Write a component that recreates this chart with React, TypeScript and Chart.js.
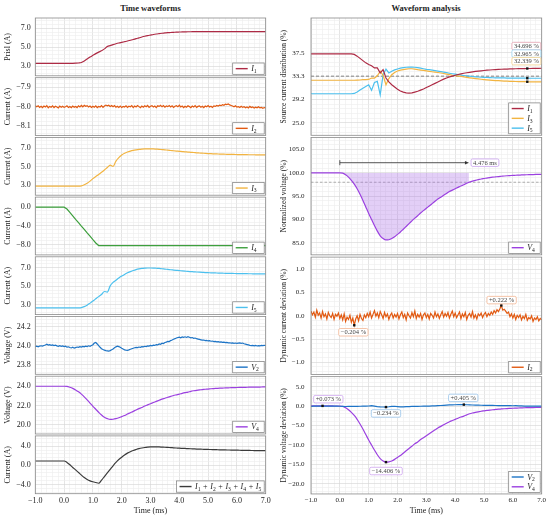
import { useEffect, useRef } from 'react';
import Chart from 'chart.js/auto';

const FONT = "'Liberation Serif', 'DejaVu Serif', serif";
Chart.defaults.font.family = FONT;
Chart.defaults.font.size = 8;
Chart.defaults.color = '#222';

// time bases (ms)
const time = [
  -1.0, -0.9, -0.8, -0.7, -0.6, -0.5, -0.4, -0.3, -0.2, -0.1,
  0.0, 0.1, 0.2, 0.3, 0.4, 0.5, 0.6, 0.7, 0.8, 0.9,
  1.0, 1.1, 1.2, 1.3, 1.4, 1.5, 1.6, 1.7, 1.8, 1.9,
  2.0, 2.1, 2.2, 2.3, 2.4, 2.5, 2.6, 2.7, 2.8, 2.9,
  3.0, 3.1, 3.2, 3.3, 3.4, 3.5, 3.6, 3.7, 3.8, 3.9,
  4.0, 4.1, 4.2, 4.3, 4.4, 4.5, 4.6, 4.7, 4.8, 4.9,
  5.0, 5.1, 5.2, 5.3, 5.4, 5.5, 5.6, 5.7, 5.8, 5.9,
  6.0, 6.1, 6.2, 6.3, 6.4, 6.5, 6.6, 6.7, 6.8, 6.9,
  7.0,
];
const timeFine = [
  -1.0, -0.95, -0.9, -0.85, -0.8, -0.75, -0.7, -0.65, -0.6, -0.55, -0.5, -0.45, -0.4, -0.35, -0.3, -0.25, -0.2, -0.15, -0.1, -0.05,
  0.0, 0.05, 0.1, 0.15, 0.2, 0.25, 0.3, 0.35, 0.4, 0.45, 0.5, 0.55, 0.6, 0.65, 0.7, 0.75, 0.8, 0.85, 0.9, 0.95,
  1.0, 1.05, 1.1, 1.15, 1.2, 1.25, 1.3, 1.35, 1.4, 1.45, 1.5, 1.55, 1.6, 1.65, 1.7, 1.75, 1.8, 1.85, 1.9, 1.95,
  2.0, 2.05, 2.1, 2.15, 2.2, 2.25, 2.3, 2.35, 2.4, 2.45, 2.5, 2.55, 2.6, 2.65, 2.7, 2.75, 2.8, 2.85, 2.9, 2.95,
  3.0, 3.05, 3.1, 3.15, 3.2, 3.25, 3.3, 3.35, 3.4, 3.45, 3.5, 3.55, 3.6, 3.65, 3.7, 3.75, 3.8, 3.85, 3.9, 3.95,
  4.0, 4.05, 4.1, 4.15, 4.2, 4.25, 4.3, 4.35, 4.4, 4.45, 4.5, 4.55, 4.6, 4.65, 4.7, 4.75, 4.8, 4.85, 4.9, 4.95,
  5.0, 5.05, 5.1, 5.15, 5.2, 5.25, 5.3, 5.35, 5.4, 5.45, 5.5, 5.55, 5.6, 5.65, 5.7, 5.75, 5.8, 5.85, 5.9, 5.95,
  6.0, 6.05, 6.1, 6.15, 6.2, 6.25, 6.3, 6.35, 6.4, 6.45, 6.5, 6.55, 6.6, 6.65, 6.7, 6.75, 6.8, 6.85, 6.9, 6.95,
  7.0,
];

// time waveforms
const i1 = [
  3.3, 3.3, 3.3, 3.3, 3.3, 3.3, 3.3, 3.3, 3.3, 3.3,
  3.3, 3.3, 3.3, 3.3, 3.31, 3.33, 3.38, 3.55, 3.76, 3.96,
  4.14, 4.32, 4.48, 4.62, 4.82, 5.08, 5.17, 5.27, 5.36, 5.44,
  5.51, 5.58, 5.65, 5.73, 5.81, 5.9, 5.98, 6.07, 6.15, 6.22,
  6.28, 6.34, 6.39, 6.43, 6.47, 6.5, 6.53, 6.55, 6.57, 6.59,
  6.6, 6.61, 6.62, 6.63, 6.63, 6.64, 6.64, 6.64, 6.65, 6.65,
  6.65, 6.65, 6.65, 6.65, 6.65, 6.65, 6.65, 6.65, 6.65, 6.65,
  6.65, 6.65, 6.65, 6.65, 6.65, 6.65, 6.65, 6.65, 6.65, 6.65,
  6.65,
];
const i2 = [
  -7.996, -8.002, -7.997, -8.005, -7.999, -8.006, -7.998, -8.003, -7.996, -8.007, -8.0, -8.004, -7.997, -8.006, -7.999, -8.003, -8.008, -7.998, -8.004, -7.999,
  -8.005, -8.002, -7.997, -8.006, -8.001, -8.007, -7.998, -8.004, -8.0, -8.006, -7.997, -8.003, -7.995, -8.002, -7.994, -7.999, -7.996, -8.003, -7.998, -8.005,
  -7.999, -8.004, -7.997, -8.006, -8.0, -8.003, -7.996, -8.005, -7.998, -7.993, -7.997, -7.994, -8.0, -7.995, -8.002, -7.996, -8.004, -7.999, -8.005, -7.998,
  -8.006, -8.0, -8.003, -7.997, -8.005, -7.999, -8.002, -7.996, -8.006, -7.998, -8.003, -7.995, -8.001, -8.007, -7.998, -8.004, -7.997, -8.002, -7.995, -8.005,
  -7.999, -7.996, -8.003, -7.998, -8.006, -7.997, -8.0, -7.994, -8.002, -7.996, -8.004, -7.998, -8.001, -7.995, -8.003, -7.997, -8.005, -7.999, -7.996, -8.002,
  -7.994, -8.003, -7.998, -8.006, -7.999, -8.004, -7.997, -8.001, -8.007, -7.998, -8.003, -7.996, -8.005, -8.0, -7.997, -8.004, -7.999, -8.006, -7.998, -8.002,
  -7.996, -8.003, -7.999, -8.005, -7.997, -8.0, -7.995, -7.998, -7.993, -7.996, -7.991, -7.994, -7.988, -7.99, -7.987, -7.992, -7.995, -7.998, -8.002, -7.997,
  -8.004, -8.001, -8.006, -7.999, -8.005, -8.002, -8.007, -8.003, -8.008, -8.0, -8.006, -8.003, -8.009, -8.004, -8.007, -8.002, -8.008, -8.005, -8.01, -8.006,
  -8.009,
];
const i3 = [
  2.9, 2.9, 2.9, 2.9, 2.9, 2.9, 2.9, 2.9, 2.9, 2.9,
  2.9, 2.9, 2.9, 2.9, 2.9, 2.9, 2.93, 3.05, 3.22, 3.45,
  3.72, 3.95, 4.17, 4.4, 4.65, 4.92, 5.18, 5.05, 5.62, 6.0,
  6.28, 6.47, 6.6, 6.7, 6.78, 6.84, 6.89, 6.92, 6.94, 6.95,
  6.95, 6.94, 6.92, 6.9, 6.87, 6.84, 6.8, 6.77, 6.74, 6.71,
  6.68, 6.65, 6.62, 6.6, 6.57, 6.55, 6.52, 6.5, 6.48, 6.46,
  6.44, 6.42, 6.41, 6.4, 6.38, 6.37, 6.36, 6.35, 6.34, 6.34,
  6.33, 6.33, 6.32, 6.32, 6.31, 6.31, 6.31, 6.3, 6.3, 6.3,
  6.3,
];
const i4 = [
  0, 0, 0, 0, 0, 0, 0, 0, 0, 0,
  0, -0.4, -1.1, -1.85, -2.6, -3.3, -4.05, -4.75, -5.5, -6.2,
  -6.95, -7.65, -8.2, -8.2, -8.2, -8.2, -8.2, -8.2, -8.2, -8.2,
  -8.2, -8.2, -8.2, -8.2, -8.2, -8.2, -8.2, -8.2, -8.2, -8.2,
  -8.2, -8.2, -8.2, -8.2, -8.2, -8.2, -8.2, -8.2, -8.2, -8.2,
  -8.2, -8.2, -8.2, -8.2, -8.2, -8.2, -8.2, -8.2, -8.2, -8.2,
  -8.2, -8.2, -8.2, -8.2, -8.2, -8.2, -8.2, -8.2, -8.2, -8.2,
  -8.2, -8.2, -8.2, -8.2, -8.2, -8.2, -8.2, -8.2, -8.2, -8.2,
  -8.2,
];
const i5 = [
  2.7, 2.7, 2.7, 2.7, 2.7, 2.7, 2.7, 2.7, 2.7, 2.7,
  2.7, 2.7, 2.7, 2.7, 2.7, 2.7, 2.72, 2.82, 2.98, 3.2,
  3.42, 3.66, 3.9, 4.12, 4.45, 4.38, 5.05, 5.42, 5.66, 5.9,
  6.1, 6.28, 6.45, 6.58, 6.7, 6.8, 6.87, 6.92, 6.95, 6.97,
  6.97, 6.96, 6.94, 6.92, 6.89, 6.85, 6.82, 6.78, 6.75, 6.72,
  6.69, 6.66, 6.63, 6.6, 6.58, 6.56, 6.54, 6.52, 6.5, 6.48,
  6.47, 6.45, 6.44, 6.43, 6.42, 6.41, 6.4, 6.39, 6.39, 6.38,
  6.37, 6.37, 6.36, 6.36, 6.35, 6.35, 6.34, 6.34, 6.34, 6.33,
  6.33,
];
const v2 = [
  23.992, 23.996, 23.99, 23.998, 24.001, 23.997, 24.004, 24.009, 24.017, 24.008, 24.012, 24.006, 24.01, 24.003, 24.007, 24.0, 23.996, 24.002, 23.995, 23.999,
  23.993, 23.997, 23.986, 23.99, 23.983, 23.978, 23.985, 23.976, 23.982, 23.988, 23.984, 23.992, 23.987, 23.995, 23.99, 23.998, 23.993, 24.001, 23.996, 24.004,
  24.012, 24.03, 24.036, 24.02, 24.002, 23.985, 23.97, 23.962, 23.955, 23.95, 23.947, 23.944, 23.95, 23.958, 23.968, 23.98, 23.99, 23.996, 23.992, 23.985,
  23.975, 23.966, 23.958, 23.955, 23.953, 23.958, 23.964, 23.97, 23.975, 23.98, 23.984, 23.982, 23.988, 23.985, 23.992, 23.989, 23.996, 23.993, 24.0, 23.997,
  24.004, 24.0, 24.008, 24.005, 24.014, 24.01, 24.02, 24.017, 24.028, 24.025, 24.036, 24.04, 24.048, 24.045, 24.056, 24.062, 24.07, 24.076, 24.083, 24.088,
  24.092, 24.086, 24.094, 24.09, 24.096, 24.089, 24.097, 24.091, 24.085, 24.088, 24.08, 24.083, 24.076, 24.072, 24.068, 24.064, 24.06, 24.062, 24.056, 24.058,
  24.052, 24.055, 24.049, 24.051, 24.046, 24.048, 24.043, 24.045, 24.04, 24.042, 24.037, 24.04, 24.034, 24.036, 24.031, 24.033, 24.029, 24.031, 24.027, 24.03,
  24.026, 24.029, 24.032, 24.027, 24.03, 24.022, 24.018, 24.014, 24.01, 24.006, 24.003, 24.005, 24.0, 24.004, 23.999, 24.003, 24.0, 24.005, 24.002, 24.006,
  24.004,
];
const v4 = [
  24.0, 24.0, 24.0, 24.0, 24.0, 24.0, 24.0, 24.0, 24.0, 24.0,
  24.0, 23.99, 23.9, 23.78, 23.62, 23.42, 23.18, 22.9, 22.58, 22.25,
  21.91, 21.6, 21.29, 21.0, 20.76, 20.62, 20.54, 20.56, 20.62, 20.71,
  20.83, 20.95, 21.1, 21.24, 21.38, 21.53, 21.67, 21.79, 21.94, 22.06,
  22.18, 22.3, 22.42, 22.54, 22.66, 22.75, 22.85, 22.94, 23.04, 23.11,
  23.18, 23.26, 23.33, 23.39, 23.47, 23.53, 23.58, 23.62, 23.65, 23.69,
  23.71, 23.74, 23.76, 23.78, 23.8, 23.81, 23.83, 23.84, 23.85, 23.86,
  23.87, 23.88, 23.89, 23.89, 23.9, 23.91, 23.91, 23.92, 23.92, 23.93,
  23.93,
];
const iSum = [
  0.9, 0.9, 0.9, 0.9, 0.9, 0.9, 0.9, 0.9, 0.9, 0.9,
  0.9, 0.6, 0.1, -0.45, -0.95, -1.5, -2.05, -2.55, -2.95, -3.25,
  -3.45, -3.6, -3.75, -3.1, -2.35, -1.6, -0.85, -0.1, 0.6, 1.2,
  1.7, 2.15, 2.55, 2.85, 3.1, 3.3, 3.48, 3.62, 3.73, 3.8,
  3.85, 3.87, 3.86, 3.84, 3.81, 3.78, 3.74, 3.7, 3.66, 3.62,
  3.58, 3.55, 3.52, 3.49, 3.46, 3.43, 3.4, 3.38, 3.36, 3.34,
  3.32, 3.3, 3.28, 3.26, 3.24, 3.23, 3.21, 3.2, 3.19, 3.17,
  3.16, 3.15, 3.13, 3.12, 3.11, 3.1, 3.09, 3.08, 3.07, 3.06,
  3.05,
];

// waveform analysis
const shareI1 = [
  37.3, 37.3, 37.3, 37.3, 37.3, 37.3, 37.3, 37.3, 37.3, 37.3,
  37.3, 37.3, 37.3, 37.3, 37.3, 37.2, 36.9, 36.5, 36.1, 35.7,
  35.4, 35.2, 34.8, 34.8, 33.9, 34.5, 33.0, 32.3, 31.8, 31.4,
  31.0, 30.7, 30.5, 30.35, 30.3, 30.35, 30.5, 30.65, 30.85, 31.05,
  31.3, 31.55, 31.8, 32.05, 32.3, 32.55, 32.8, 33.0, 33.2, 33.35,
  33.5, 33.63, 33.75, 33.85, 33.94, 34.02, 34.1, 34.17, 34.23, 34.29,
  34.34, 34.39, 34.43, 34.47, 34.5, 34.53, 34.56, 34.58, 34.6, 34.62,
  34.64, 34.65, 34.66, 34.67, 34.68, 34.696, 34.7, 34.71, 34.72, 34.73,
  34.74,
];
const shareI3 = [
  32.6, 32.6, 32.6, 32.6, 32.6, 32.6, 32.6, 32.6, 32.6, 32.6,
  32.6, 32.6, 32.6, 32.6, 32.6, 32.6, 32.62, 32.65, 32.7, 32.72,
  32.75, 33.0, 33.0, 33.4, 34.2, 33.5, 31.8, 32.9, 33.6, 34.0,
  34.25, 34.4, 34.5, 34.6, 34.65, 34.65, 34.6, 34.5, 34.42, 34.35,
  34.28, 34.2, 34.12, 34.05, 33.98, 33.9, 33.8, 33.7, 33.6, 33.5,
  33.42, 33.35, 33.28, 33.2, 33.12, 33.04, 32.97, 32.9, 32.84, 32.78,
  32.72, 32.67, 32.63, 32.59, 32.55, 32.52, 32.49, 32.46, 32.44, 32.42,
  32.4, 32.38, 32.37, 32.36, 32.35, 32.339, 32.33, 32.32, 32.31, 32.3,
  32.3,
];
const shareI5 = [
  30.2, 30.2, 30.2, 30.2, 30.2, 30.2, 30.2, 30.2, 30.2, 30.2,
  30.2, 30.2, 30.2, 30.2, 30.2, 30.25, 30.5, 30.85, 31.2, 31.5,
  31.8, 30.8, 32.2, 32.4, 30.0, 33.6, 34.6, 33.9, 34.2, 34.45,
  34.6, 34.75, 34.85, 34.92, 34.95, 34.95, 34.92, 34.85, 34.75, 34.65,
  34.55, 34.48, 34.4, 34.32, 34.24, 34.15, 34.05, 33.95, 33.85, 33.76,
  33.68, 33.6, 33.52, 33.45, 33.39, 33.33, 33.27, 33.22, 33.18, 33.14,
  33.11, 33.09, 33.07, 33.05, 33.04, 33.03, 33.02, 33.01, 33.0, 32.99,
  32.99, 32.98, 32.98, 32.97, 32.97, 32.965, 32.96, 32.96, 32.96, 32.96,
  32.96,
];
const v4Norm = [
  100, 100, 100, 100, 100, 100, 100, 100, 100, 100,
  100, 99.95, 99.6, 99.1, 98.4, 97.6, 96.6, 95.4, 94.1, 92.7,
  91.3, 90.0, 88.7, 87.5, 86.5, 85.9, 85.6, 85.65, 85.9, 86.3,
  86.8, 87.3, 87.9, 88.5, 89.1, 89.7, 90.3, 90.8, 91.4, 91.9,
  92.4, 92.9, 93.4, 93.9, 94.4, 94.8, 95.2, 95.6, 96.0, 96.3,
  96.6, 96.9, 97.2, 97.45, 97.8, 98.05, 98.25, 98.4, 98.55, 98.7,
  98.8, 98.9, 99.0, 99.08, 99.15, 99.22, 99.28, 99.34, 99.39, 99.43,
  99.47, 99.5, 99.53, 99.56, 99.59, 99.61, 99.63, 99.65, 99.67, 99.69,
  99.7,
];
const settleTime = 4.476;
const settleLevel = 98;
const i2Dev = [
  0.1, 0.02, 0.08, -0.03, 0.12, 0.01, 0.06, -0.05, 0.09, -0.02, 0.04, -0.07, 0.07, 0.0, -0.04, 0.05, -0.08, 0.03, -0.01, 0.06,
  -0.06, 0.02, -0.09, 0.04, -0.12, -0.03, -0.08, 0.01, -0.14, -0.05, -0.204, -0.07, 0.0, -0.11, 0.03, -0.06, -0.1, 0.02, -0.04, 0.05,
  -0.02, 0.08, -0.05, 0.03, 0.11, -0.01, 0.06, -0.04, 0.09, 0.02, -0.06, 0.07, -0.02, 0.04, -0.08, 0.01, 0.06, -0.05, 0.03, -0.03,
  0.05, -0.07, 0.02, 0.08, -0.04, 0.03, -0.09, 0.06, 0.0, -0.05, 0.07, -0.02, 0.1, -0.06, 0.03, -0.03, 0.05, -0.08, 0.02, 0.06,
  -0.04, 0.03, -0.07, 0.05, 0.01, -0.05, 0.08, -0.02, 0.04, -0.06, 0.02, 0.09, -0.03, 0.05, -0.01, 0.07, -0.05, 0.03, 0.1, -0.02,
  0.06, -0.04, 0.02, 0.08, -0.06, 0.04, -0.02, 0.07, -0.08, 0.01, 0.05, -0.03, 0.09, -0.05, 0.02, -0.07, 0.04, 0.0, 0.06, -0.04,
  0.03, 0.07, -0.02, 0.05, 0.01, 0.08, 0.03, 0.11, 0.06, 0.13, 0.09, 0.15, 0.222, 0.12, 0.14, 0.1, 0.05, 0.08, -0.02, 0.04,
  -0.05, 0.03, -0.08, 0.01, -0.04, 0.02, -0.09, -0.01, -0.06, 0.03, -0.1, -0.04, -0.07, 0.0, -0.12, -0.05, -0.08, -0.02, -0.11, -0.06,
  -0.09,
];
const v2Dev = [
  -0.03, -0.01, 0.02, 0.04, 0.03, 0.04, 0.02, 0.0, -0.01, 0.0,
  -0.02, -0.05, -0.08, -0.07, -0.05, -0.04, -0.03, -0.02, -0.01, 0.01,
  0.05, 0.12, 0.01, -0.12, -0.19, -0.22, -0.234, -0.15, -0.04, -0.02,
  -0.1, -0.17, -0.19, -0.14, -0.1, -0.07, -0.06, -0.04, -0.02, 0.0,
  0.01, 0.03, 0.06, 0.09, 0.13, 0.17, 0.22, 0.27, 0.31, 0.35,
  0.37, 0.38, 0.39, 0.405, 0.36, 0.34, 0.3, 0.27, 0.25, 0.24,
  0.22, 0.21, 0.19, 0.18, 0.17, 0.16, 0.14, 0.13, 0.12, 0.12,
  0.11, 0.12, 0.1, 0.06, 0.03, 0.01, 0.0, 0.01, 0.01, 0.02,
  0.02,
];
const v4Dev = [
  0.05, 0.06, 0.06, 0.07, 0.073, 0.07, 0.06, 0.06, 0.05, 0.05,
  0.04, -0.05, -0.4, -0.9, -1.6, -2.4, -3.4, -4.6, -5.9, -7.3,
  -8.7, -10.0, -11.3, -12.5, -13.5, -14.1, -14.406, -14.35, -14.1, -13.7,
  -13.2, -12.7, -12.1, -11.5, -10.9, -10.3, -9.7, -9.2, -8.6, -8.1,
  -7.6, -7.1, -6.6, -6.1, -5.6, -5.2, -4.8, -4.4, -4.0, -3.7,
  -3.4, -3.1, -2.8, -2.55, -2.25, -1.95, -1.75, -1.6, -1.45, -1.3,
  -1.2, -1.1, -1.0, -0.92, -0.85, -0.78, -0.72, -0.66, -0.61, -0.57,
  -0.53, -0.5, -0.47, -0.44, -0.41, -0.39, -0.37, -0.35, -0.33, -0.31,
  -0.3,
];

const xMajors = [-1, 0, 1, 2, 3, 4, 5, 6, 7];

const C = {
  i1: '#ad2a44',
  i2: '#e25a12',
  i3: '#f2b441',
  i4: '#3d9f3d',
  i5: '#4cc0ee',
  v2: '#1d74c6',
  v4: '#9b40e0',
  sum: '#3b3b3b',
};

type Series = { label?: string; t: number[]; v: number[]; color: string; smooth?: boolean; shade?: boolean };
type Tag = { x: number; y: number; text: string; color: string; align?: 'left' | 'right' | 'center' };
type Decor = {
  hlines?: { y: number; color: string; dash: number[] }[];
  dots?: number[][];
  tags?: Tag[];
  span?: { x0: number; x1: number; y: number };
};
type Spec = {
  col: 0 | 1;
  row: number;
  yMin: number;
  yMax: number;
  yMajors: number[];
  yTitle: string;
  series: Series[];
  showX?: boolean;
  decor?: Decor;
};

const shadeT = time.filter((t) => t >= 0 && t <= settleTime);

const panels: Spec[] = [
  { col: 0, row: 0, yMin: 1.98, yMax: 8.08, yMajors: [3, 5, 7], yTitle: 'Prisl (A)',
    series: [{ label: 'I_1', t: time, v: i1, color: C.i1, smooth: true }] },
  { col: 0, row: 1, yMin: -8.153, yMax: -7.849, yMajors: [-8.1, -8.0, -7.9], yTitle: 'Current (A)',
    series: [{ label: 'I_2', t: timeFine, v: i2, color: C.i2 }] },
  { col: 0, row: 2, yMin: 1.92, yMax: 8.19, yMajors: [3, 5, 7], yTitle: 'Current (A)',
    series: [{ label: 'I_3', t: time, v: i3, color: C.i3, smooth: true }] },
  { col: 0, row: 3, yMin: -10.2, yMax: 2.14, yMajors: [-8, -4, 0], yTitle: 'Current (A)',
    series: [{ label: 'I_4', t: time, v: i4, color: C.i4 }] },
  { col: 0, row: 4, yMin: 1.97, yMax: 8.17, yMajors: [3, 5, 7], yTitle: 'Current (A)',
    series: [{ label: 'I_5', t: time, v: i5, color: C.i5, smooth: true }] },
  { col: 0, row: 5, yMin: 23.7, yMax: 24.31, yMajors: [23.8, 24.0, 24.2], yTitle: 'Voltage (V)',
    series: [{ label: 'V_2', t: timeFine, v: v2, color: C.v2 }] },
  { col: 0, row: 6, yMin: 19.02, yMax: 25.05, yMajors: [20, 22, 24], yTitle: 'Voltage (V)',
    series: [{ label: 'V_4', t: time, v: v4, color: C.v4, smooth: true }] },
  { col: 0, row: 7, yMin: -5.94, yMax: 6.15, yMajors: [-4, 0, 4], yTitle: 'Current (A)', showX: true,
    series: [{ label: 'I_1 + I_2 + I_3 + I_4 + I_5', t: time, v: iSum, color: C.sum, smooth: true }] },

  { col: 1, row: 0, yMin: 22.8, yMax: 43.69, yMajors: [25, 29.1667, 33.3333, 37.5, 41.6667],
    yTitle: 'Source current distribution (%)',
    series: [
      { label: 'I_1', t: time, v: shareI1, color: C.i1 },
      { label: 'I_3', t: time, v: shareI3, color: C.i3 },
      { label: 'I_5', t: time, v: shareI5, color: C.i5 },
    ],
    decor: {
      hlines: [{ y: 33.3333, color: '#666', dash: [3, 2] }],
      dots: [[6.5, 34.696], [6.5, 32.965], [6.5, 32.339]],
      tags: [
        { x: 6.97, y: 38.69, text: '34.696 %', color: '#e3a0ae', align: 'right' },
        { x: 6.97, y: 37.35, text: '32.965 %', color: '#9ad6f2', align: 'right' },
        { x: 6.97, y: 36.0, text: '32.339 %', color: '#f4d08c', align: 'right' },
      ],
    } },
  { col: 1, row: 1, yMin: 82.4, yMax: 107.6, yMajors: [85, 90, 95, 100, 105], yTitle: 'Normalized voltage (%)',
    series: [
      { label: 'V_4', t: time, v: v4Norm, color: C.v4, smooth: true },
      { t: [...shadeT, settleTime], v: [...v4Norm.filter((_, i) => time[i] >= 0 && time[i] <= settleTime), settleLevel], color: C.v4, smooth: true, shade: true },
    ],
    decor: {
      hlines: [{ y: settleLevel, color: '#9a9a9a', dash: [2.5, 2] }],
      span: { x0: 0, x1: settleTime, y: 102.2 },
      tags: [{ x: 4.55, y: 102.2, text: '4.476 ms', color: '#c9a2ef', align: 'left' }],
    } },
  { col: 1, row: 2, yMin: -1.26, yMax: 1.26, yMajors: [-1, -0.5, 0, 0.5, 1], yTitle: 'Dynamic current deviation (%)',
    series: [{ label: 'I_2', t: timeFine, v: i2Dev, color: C.i2 }],
    decor: {
      dots: [[0.5, -0.204], [5.6, 0.222]],
      tags: [
        { x: 0.47, y: -0.355, text: '\u22120.204 %', color: '#f3b592' },
        { x: 5.61, y: 0.336, text: '+0.222 %', color: '#f3b592' },
      ],
    } },
  { col: 1, row: 3, yMin: -22.6, yMax: 7.6, yMajors: [-20, -15, -10, -5, 0, 5], yTitle: 'Dynamic voltage deviation (%)',
    showX: true,
    series: [
      { label: 'V_2', t: time, v: v2Dev, color: C.v2 },
      { label: 'V_4', t: time, v: v4Dev, color: C.v4, smooth: true },
    ],
    decor: {
      dots: [[-0.6, 0.073], [1.6, -0.234], [4.3, 0.405], [1.6, -14.406]],
      tags: [
        { x: -0.4, y: 1.8, text: '+0.073 %', color: '#cfa6f0' },
        { x: 1.6, y: -1.87, text: '\u22120.234 %', color: '#97c3ea' },
        { x: 4.28, y: 2.13, text: '+0.405 %', color: '#97c3ea' },
        { x: 1.6, y: -16.7, text: '\u221214.406 %', color: '#cfa6f0' },
      ],
    } },
];

const COLS = [
  { x0: 0, w: 275, axisW: 35.3, areaRight: 265.7, top0: 18, pitch: 59.7, height: 57.8, tickPad: 4.5, tickSize: 8, titlePad: 3, titleSize: 8 },
  { x0: 275, w: 275, axisW: 36, areaRight: 266.7, top0: 18, pitch: 119.55, height: 117.3, tickPad: 6.5, tickSize: 7, titlePad: 4.8, titleSize: 7.5 },
];
const PAGE_H = 519;

function fmt(v: number) {
  const s = Math.abs(v) < 1e-9 ? '0.0' : v.toFixed(1);
  return s.replace('-', '\u2212');
}

function gridTicks(min: number, max: number, majors: number[]) {
  const minor = (majors[1] - majors[0]) / 5;
  const j0 = Math.ceil((min - majors[0]) / minor - 1e-6);
  const j1 = Math.floor((max - majors[0]) / minor + 1e-6);
  const out: { value: number; major: boolean }[] = [];
  for (let j = j0; j <= j1; j++) {
    const value = majors[0] + j * minor;
    const major = ((j % 5) + 5) % 5 === 0 && value <= majors[majors.length - 1] + 1e-6;
    out.push({ value, major });
  }
  return out;
}

function mathParts(text: string) {
  const parts: { s: string; italic: boolean; sub: boolean }[] = [];
  for (let i = 0; i < text.length; i++) {
    const c = text[i];
    if (/[A-Za-z]/.test(c) && text[i + 1] === '_') {
      parts.push({ s: c, italic: true, sub: false });
      parts.push({ s: text[i + 2], italic: false, sub: true });
      i += 2;
    } else {
      parts.push({ s: c, italic: false, sub: false });
    }
  }
  return parts;
}

function partFont(p: { italic: boolean; sub: boolean }, size: number) {
  return `${p.italic ? 'italic ' : ''}${p.sub ? size * 0.7 : size}px ${FONT}`;
}

function mathWidth(ctx: CanvasRenderingContext2D, text: string, size: number) {
  let w = 0;
  for (const p of mathParts(text)) {
    ctx.font = partFont(p, size);
    w += ctx.measureText(p.s).width + (p.s === ' ' ? 0.6 : 0);
  }
  return w;
}

function drawMath(ctx: CanvasRenderingContext2D, text: string, x: number, y: number, size: number) {
  ctx.textAlign = 'left';
  ctx.textBaseline = 'alphabetic';
  const base = y + size * 0.33;
  let cx = x;
  for (const p of mathParts(text)) {
    ctx.font = partFont(p, size);
    ctx.fillText(p.s, cx, p.sub ? base + size * 0.2 : base);
    cx += ctx.measureText(p.s).width + (p.s === ' ' ? 0.6 : 0);
  }
}

function drawTag(ctx: CanvasRenderingContext2D, px: number, py: number, tag: Tag) {
  ctx.font = `6.5px ${FONT}`;
  const w = ctx.measureText(tag.text).width + 4;
  const h = 7.5;
  const x = tag.align === 'left' ? px : tag.align === 'right' ? px - w : px - w / 2;
  const y = py - h / 2;
  ctx.beginPath();
  ctx.roundRect(x, y, w, h, 1.5);
  ctx.fillStyle = '#fff';
  ctx.fill();
  ctx.strokeStyle = tag.color;
  ctx.lineWidth = 0.8;
  ctx.stroke();
  ctx.fillStyle = '#444';
  ctx.textAlign = 'center';
  ctx.textBaseline = 'middle';
  ctx.fillText(tag.text, x + w / 2, py + 0.3);
}

function decorPlugin(spec: Spec) {
  const d = spec.decor || {};
  return {
    id: 'decor',
    beforeDatasetsDraw(chart: any) {
      const { ctx, chartArea: a, scales } = chart;
      ctx.save();
      for (const h of d.hlines || []) {
        const y = scales.y.getPixelForValue(h.y);
        ctx.strokeStyle = h.color;
        ctx.lineWidth = 0.8;
        ctx.setLineDash(h.dash);
        ctx.beginPath();
        ctx.moveTo(a.left, y);
        ctx.lineTo(a.right, y);
        ctx.stroke();
      }
      ctx.restore();
    },
    afterDatasetsDraw(chart: any) {
      const { ctx, chartArea: a, scales } = chart;
      const sx = scales.x;
      const sy = scales.y;
      ctx.save();
      ctx.strokeStyle = '#8a8a8a';
      ctx.lineWidth = 0.8;
      ctx.strokeRect(a.left, a.top, a.right - a.left, a.bottom - a.top);

      if (d.span) {
        const xa = sx.getPixelForValue(d.span.x0);
        const xb = sx.getPixelForValue(d.span.x1);
        const y = sy.getPixelForValue(d.span.y);
        ctx.strokeStyle = '#333';
        ctx.fillStyle = '#333';
        ctx.lineWidth = 0.8;
        ctx.beginPath();
        ctx.moveTo(xa, y);
        ctx.lineTo(xb - 3, y);
        ctx.moveTo(xa, y - 2.5);
        ctx.lineTo(xa, y + 2.5);
        ctx.stroke();
        ctx.beginPath();
        ctx.moveTo(xb, y);
        ctx.lineTo(xb - 4, y - 1.8);
        ctx.lineTo(xb - 4, y + 1.8);
        ctx.closePath();
        ctx.fill();
      }
      for (const p of d.dots || []) {
        ctx.fillStyle = '#111';
        ctx.fillRect(sx.getPixelForValue(p[0]) - 1.2, sy.getPixelForValue(p[1]) - 1.2, 2.4, 2.4);
      }
      for (const t of d.tags || []) {
        drawTag(ctx, sx.getPixelForValue(t.x), sy.getPixelForValue(t.y), t);
      }
      ctx.restore();
    },
    afterDraw(chart: any) {
      const entries = spec.series.filter((s) => s.label);
      if (!entries.length) return;
      const { ctx, chartArea: a } = chart;
      const size = 8;
      const rowH = 9.8;
      const lineLen = 12;
      ctx.save();
      const textW = Math.max(10, ...entries.map((e) => mathWidth(ctx, e.label as string, size)));
      const w = 3 + lineLen + 3.5 + textW + 3;
      const h = entries.length * rowH + 1.5;
      const x = a.right - 1.5 - w;
      const y = a.bottom - 1.5 - h;
      ctx.fillStyle = '#fff';
      ctx.fillRect(x, y, w, h);
      ctx.strokeStyle = '#7a7a7a';
      ctx.lineWidth = 0.7;
      ctx.strokeRect(x, y, w, h);
      entries.forEach((e, i) => {
        const cy = y + 0.75 + rowH * (i + 0.5);
        ctx.strokeStyle = e.color;
        ctx.lineWidth = 1.4;
        ctx.beginPath();
        ctx.moveTo(x + 3, cy);
        ctx.lineTo(x + 3 + lineLen, cy);
        ctx.stroke();
        ctx.fillStyle = '#222';
        drawMath(ctx, e.label as string, x + 3 + lineLen + 3.5, cy, size);
      });
      ctx.restore();
    },
  };
}

function buildConfig(spec: Spec) {
  const col = COLS[spec.col];
  const areaTop = col.top0 + spec.row * col.pitch;
  const areaBottom = areaTop + col.height;
  const top = Math.floor(areaTop) - 1;
  const bottom = spec.showX ? PAGE_H : Math.ceil(areaBottom) + 1;
  const xAxisH = spec.showX ? bottom - areaBottom : 0;
  const gridColor = (c: any) => (c.tick && c.tick.major ? '#d4d4d4' : '#ededed');
  const labelOf = (v: number, i: number, ticks: any[]) => (ticks[i].major ? fmt(v) : '');

  const datasets = spec.series.map((s) => ({
    data: s.t.map((t, i) => ({ x: t, y: s.v[i] })),
    borderColor: s.color,
    borderWidth: s.shade ? 0 : 1.2,
    backgroundColor: s.shade ? 'rgba(170,110,230,0.33)' : s.color,
    fill: s.shade ? { value: 100 } : false,
    pointRadius: 0,
    cubicInterpolationMode: s.smooth ? 'monotone' : 'default',
    tension: 0,
  }));

  return {
    geom: { left: col.x0, top, w: col.w, h: bottom - top },
    config: {
      type: 'line',
      data: { datasets },
      options: {
        responsive: false,
        animation: false,
        events: [],
        layout: {
          padding: {
            left: 0,
            right: col.w - col.areaRight,
            top: areaTop - top,
            bottom: spec.showX ? 0 : bottom - areaBottom,
          },
        },
        plugins: { legend: { display: false }, tooltip: { enabled: false } },
        scales: {
          x: {
            type: 'linear',
            min: -1,
            max: 7,
            afterBuildTicks: (ax: any) => { ax.ticks = gridTicks(-1, 7, xMajors); },
            afterFit: (s: any) => { s.height = xAxisH; s.paddingLeft = 0; s.paddingRight = 0; },
            grid: { color: gridColor, lineWidth: 0.6, drawTicks: false },
            border: { display: false },
            ticks: { display: !!spec.showX, autoSkip: false, minRotation: 0, maxRotation: 0, padding: 2.5, callback: labelOf, font: { size: col.tickSize } },
            title: { display: !!spec.showX, text: 'Time (ms)', padding: { top: 0, bottom: 3 }, font: { size: 8 } },
          },
          y: {
            type: 'linear',
            min: spec.yMin,
            max: spec.yMax,
            afterBuildTicks: (ax: any) => { ax.ticks = gridTicks(spec.yMin, spec.yMax, spec.yMajors); },
            afterFit: (s: any) => { s.width = col.axisW; s.paddingTop = 0; s.paddingBottom = 0; },
            grid: { color: gridColor, lineWidth: 0.6, drawTicks: false },
            border: { display: false },
            ticks: { autoSkip: false, padding: col.tickPad, callback: labelOf, font: { size: col.tickSize } },
            title: { display: true, text: spec.yTitle, padding: { top: col.titlePad, bottom: 0 }, font: { size: col.titleSize } },
          },
        },
      },
      plugins: [decorPlugin(spec)],
    },
  };
}

function Panel({ spec }: { spec: Spec }) {
  const canvasRef = useRef<HTMLCanvasElement | null>(null);
  const { geom, config } = buildConfig(spec);

  useEffect(() => {
    if (!canvasRef.current) return;
    const chart = new Chart(canvasRef.current, config as any);
    return () => chart.destroy();
  }, []);

  return (
    <canvas
      ref={canvasRef}
      width={geom.w}
      height={geom.h}
      style={{ position: 'absolute', left: geom.left, top: geom.top, width: geom.w, height: geom.h }}
    />
  );
}

const titleStyle = {
  position: 'absolute' as const,
  top: 3,
  transform: 'translateX(-50%)',
  font: `bold 8.5px ${FONT}`,
  color: '#222',
  whiteSpace: 'nowrap' as const,
  lineHeight: '10px',
};

export default function App() {
  return (
    <div style={{ position: 'absolute', left: 0, top: 0, width: 550, height: 519, background: '#fff', overflow: 'hidden' }}>
      <div style={{ ...titleStyle, left: 150.5 }}>Time waveforms</div>
      <div style={{ ...titleStyle, left: 426 }}>Waveform analysis</div>
      {panels.map((p, i) => (
        <Panel key={i} spec={p} />
      ))}
    </div>
  );
}
